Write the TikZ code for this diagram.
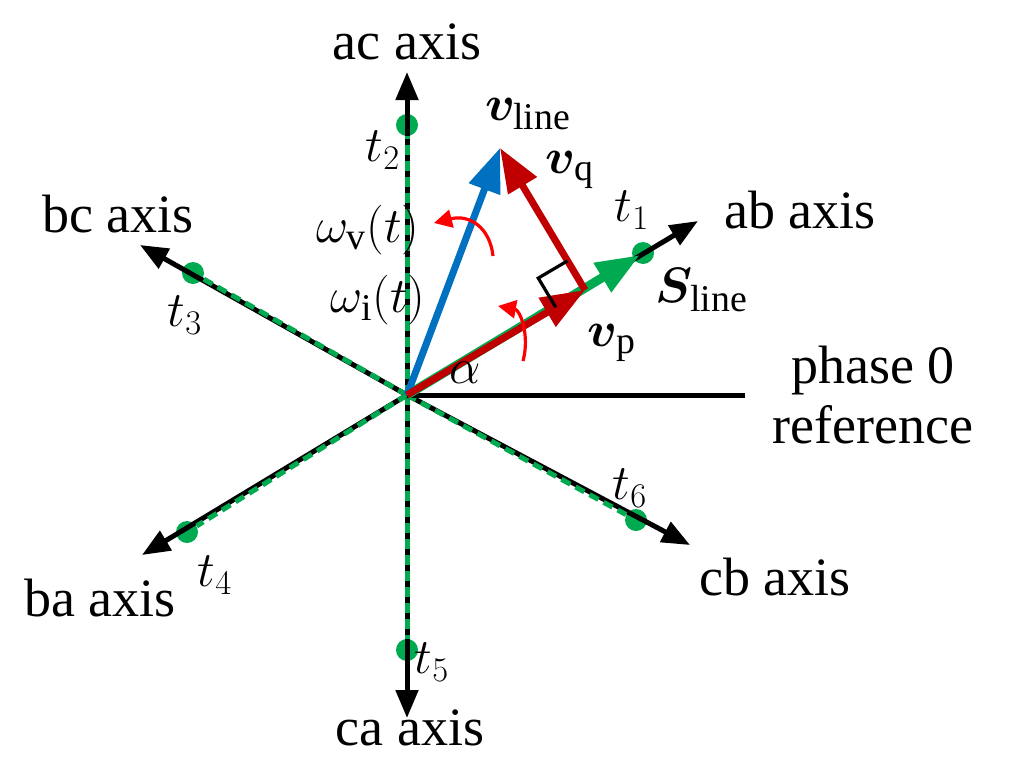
\documentclass[tikz,border=0pt]{standalone}
\usepackage{amsmath,amssymb,bm}
\usepackage{fontspec}
\setmainfont{Liberation Serif}
\usetikzlibrary{positioning,arrows.meta,calc}
\tikzset{}
\begin{document}
\begin{tikzpicture}[x=0.5pt,y=-0.5pt]
    \tikzset{
        ax line/.style={draw=black,line width=2.5pt,-{Triangle[length=14pt,width=11pt]}},
        ax dash/.style={line width=2.5pt,dash pattern=on 5pt off 3pt},
        ax dot/.style={circle,minimum size=11pt,inner sep=0},
        ax label/.style={font=\fontsize{27}{30}\selectfont},
        vec/.style={line width=3.5pt,-{Triangle[length=22pt,width=16pt]}},
        rot/.style={red,line width=1.6pt,-{Triangle[length=9pt,width=9pt]}},
        big/.style={font=\fontsize{27}{30}\selectfont}
    }
    \useasboundingbox (0,0) rectangle (1011,771);
    \definecolor{sgreen}{RGB}{0,170,80}
    \definecolor{sblue}{RGB}{0,112,192}
    \definecolor{sred}{RGB}{192,0,0}
    \coordinate (O) at (407,395);
    % axis tips and points
    \coordinate (ac) at (407,72);   \node[ax dot,fill=sgreen] (t2) at (407,125) {};
    \coordinate (ca) at (407,718);  \node[ax dot,fill=sgreen] (t5) at (407,650) {};
    \coordinate (ab) at (698,221);  \node[ax dot,fill=sgreen] (t1) at (643,253) {};
    \coordinate (bc) at (140,245);  \node[ax dot,fill=sgreen] (t3) at (193,273) {};
    \coordinate (ba) at (142,555);  \node[ax dot,fill=sgreen] (t4) at (187,532) {};
    \coordinate (cb) at (690,545);  \node[ax dot,fill=sgreen] (t6) at (636,520) {};
    \foreach \a/\t in {ac/t2,ca/t5,ab/t1,bc/t3,ba/t4,cb/t6}{
        \draw[ax line] (O) -- (\a);
        \draw[ax dash,draw=sgreen] (O) -- (\t);
    }
    \coordinate (ref) at (745,395);
    \draw[line width=2.5pt] (O) -- (ref);
    % vectors
    \coordinate (Vl) at (500,148);
    \coordinate (Vp) at (585,290);
    \coordinate (Sl) at (640,255);
    \draw[vec,sgreen,line width=4.5pt] (O) -- (Sl);
    \draw[vec,sblue] (O) -- (Vl);
    \draw[vec,sred] (O) -- (Vp);
    \draw[vec,sred] (Vp) -- (Vl);
    \coordinate (m1) at ($(Vp)!17pt!(O)$);
    \coordinate (m2) at ($(Vp)!17pt!(Vl)$);
    \draw[line width=1.6pt] (m1) -- ($(m1)+(m2)-(Vp)$) -- (m2);
    % rotation arrows
    \draw[rot] (493,256) .. controls (490,228) and (470,214) .. (434,223);
    \draw[rot] (523,361) .. controls (530,335) and (520,310) .. (498,306);
    % labels
    \node[ax label] (lac) at (407,42) {ac axis};
    \node[ax label] (lbc) at (118,214) {bc axis};
    \node[ax label] (lab) at (800,210) {ab axis};
    \node[ax label] (lba) at (100,598) {ba axis};
    \node[ax label] (lcb) at (775,577) {cb axis};
    \node[ax label] (lca) at (410,728) {ca axis};
    \node[ax label,align=center] (lref) at (873,395) {phase 0\\reference};
    \node[big] (n2) at (383,150) {$t_2$};
    \node[big] (n3) at (185,315) {$t_3$};
    \node[big] (n1) at (632,210) {$t_1$};
    \node[big] (n4) at (215,575) {$t_4$};
    \node[big] (n5) at (432,662) {$t_5$};
    \node[big] (n6) at (630,488) {$t_6$};
    \node[big] (nvl) at (528,114) {$\bm{v}_{\mathrm{line}}$};
    \node[big] (nvq) at (570,170) {$\bm{v}_{\mathrm{q}}$};
    \node[big] (nsl) at (702,290) {$\bm{S}_{\mathrm{line}}$};
    \node[big] (nvp) at (612,343) {$\bm{v}_{\mathrm{p}}$};
    \node[big] (nal) at (465,373) {$\alpha$};
    \node[big] (nwv) at (368,230) {$\omega_{\mathrm{v}}(t)$};
    \node[big] (nwi) at (378,300) {$\omega_{\mathrm{i}}(t)$};
\end{tikzpicture}
\end{document}
